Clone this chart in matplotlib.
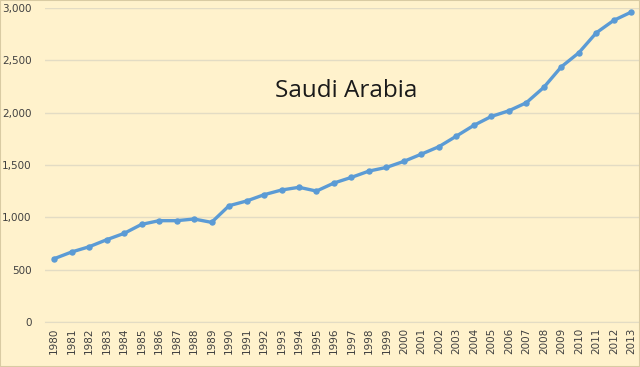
import matplotlib
matplotlib.use("Agg")
import matplotlib.pyplot as plt
from matplotlib.ticker import FuncFormatter

years = list(range(1980, 2014))
values = [605, 669, 719, 786, 847, 933, 968, 968, 984, 952,
          1111, 1156, 1216, 1261, 1287, 1251, 1328, 1382, 1442, 1477,
          1535, 1604, 1675, 1776, 1879, 1964, 2018, 2095, 2242, 2438,
          2572, 2763, 2882, 2961]
y_ticks = [0, 500, 1000, 1500, 2000, 2500, 3000]
title = "Saudi Arabia"

bg = "#FFF2CC"
fig = plt.figure(figsize=(6.4, 3.67), dpi=100, facecolor=bg)
ax = fig.add_axes([0.071, 0.1226, 0.929, 0.8556], facecolor=bg)

x = list(range(len(years)))
ax.plot(x, values, color="#5B9BD5", lw=2.4, marker="o", ms=3.6, zorder=3)

ax.set_xlim(-0.5, len(years) - 0.5)
ax.set_ylim(0, 3000)
ax.set_yticks(y_ticks)
ax.yaxis.set_major_formatter(FuncFormatter(lambda v, p: f"{int(v):,}"))
ax.set_xticks(x)
ax.set_xticklabels([str(y) for y in years], rotation=90)
ax.tick_params(axis="both", length=0, labelsize=7.5, labelcolor="#404040")
ax.tick_params(axis="y", pad=10)
ax.tick_params(axis="x", pad=4)
ax.grid(axis="y", color="#E3DCC4", lw=1)
ax.set_axisbelow(True)
for side in ["top", "left", "right"]:
    ax.spines[side].set_visible(False)
ax.spines["bottom"].set_color("#E3DCC4")

# title sits inside the plot area, as in the source chart
fig.text(0.4297, 0.752, title, ha="left", va="center",
         fontsize=17.5, family="Open Sans", color="#1a1a1a")

fig.patches.append(plt.Rectangle((0, 0), 1, 1, transform=fig.transFigure,
                                 fill=False, ec="#D9CBA3", lw=1.5))

fig.savefig("out.png", dpi=100, facecolor=bg)
